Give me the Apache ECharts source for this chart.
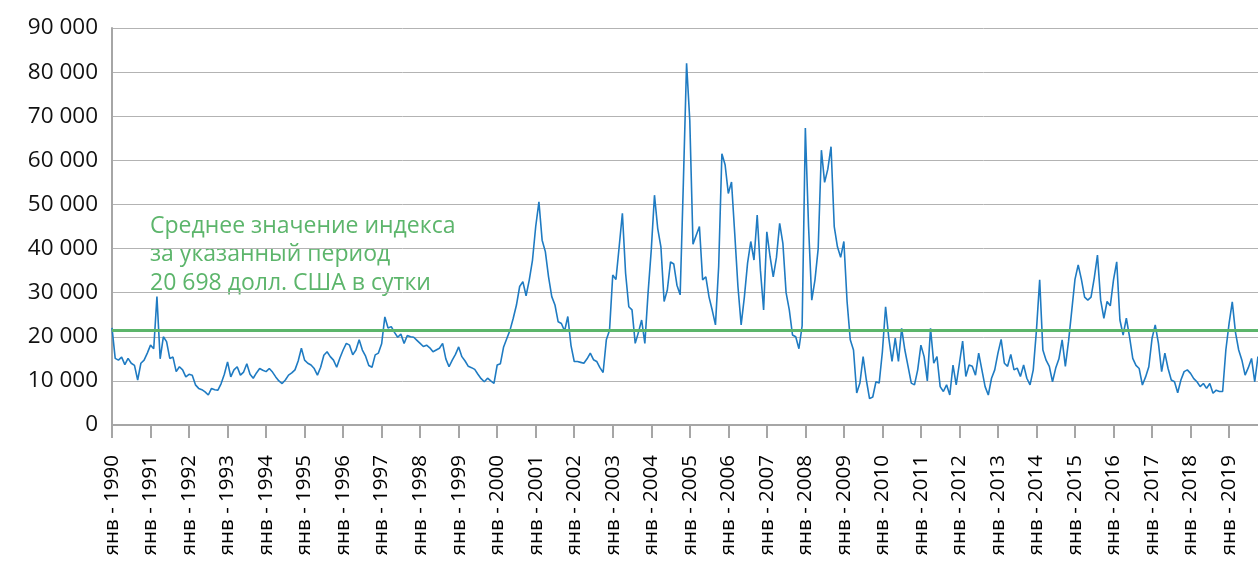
<!DOCTYPE html>
<html>
<head>
<meta charset="utf-8">
<script src="https://cdn.jsdelivr.net/npm/echarts@6/dist/echarts.min.js"></script>
<style>
  html, body { margin: 0; padding: 0; background: #fff; overflow: hidden; }
  #chart { width: 1300px; height: 564px; }
</style>
</head>
<body>
<div id="chart"></div>
<script>
// monthly readings of the index, Jan 1990 .. Mar 2020
const monthNames = ['янв', 'фев', 'мар', 'апр', 'май', 'июн', 'июл', 'авг', 'сен', 'окт', 'ноя', 'дек'];
const firstYear = 1990;

const indexValues = [
  22000, 15100, 14700, 15400, 13700, 15100, 14000, 13500, 10200, 14000, 14700, 16300, // 1990
  18100, 17300, 29100, 15000, 20000, 18900, 15100, 15400, 12100, 13200, 12500, 10900, // 1991
  11500, 11300, 9100, 8300, 8000, 7500, 6800, 8300, 8000, 7900, 9400, 11500,          // 1992
  14300, 10900, 12500, 13200, 11300, 12000, 13900, 11500, 10600, 11800, 12800, 12400, // 1993
  12100, 12800, 12000, 10900, 10000, 9400, 10200, 11300, 11800, 12500, 14500, 17400,  // 1994
  14700, 14000, 13600, 12800, 11300, 13100, 15800, 16600, 15500, 14700, 13100, 15200, // 1995
  17000, 18500, 18100, 15900, 17000, 19300, 17000, 15600, 13500, 13100, 15900, 16300, // 1996
  18400, 24500, 22000, 22300, 21000, 19900, 20600, 18500, 20300, 20000, 19900, 19200, // 1997
  18500, 17800, 18100, 17500, 16600, 17000, 17400, 18500, 15000, 13200, 14700, 16000, // 1998
  17700, 15500, 14500, 13300, 13000, 12600, 11500, 10500, 9800, 10600, 10000, 9450,   // 1999
  13600, 13900, 17700, 19600, 21500, 24200, 27200, 31400, 32500, 29300, 32900, 37400, // 2000
  45000, 50600, 41900, 39300, 33600, 29100, 27200, 23400, 23000, 21300, 24600, 18000, // 2001
  14400, 14400, 14200, 14000, 15000, 16300, 14800, 14400, 13000, 11900, 19300, 21500, // 2002
  34000, 33000, 40400, 48000, 34400, 26800, 26100, 18500, 21000, 23800, 18500, 29900, // 2003
  39700, 52100, 44600, 40400, 28000, 30600, 37000, 36500, 31700, 29500, 55000, 82000, // 2004
  69000, 41000, 43000, 45000, 32900, 33600, 29000, 26000, 22700, 36000, 61500, 59000, // 2005
  52500, 55100, 43400, 31400, 22700, 29000, 36700, 41600, 37400, 47600, 35100, 26100, // 2006
  43800, 38200, 33600, 38000, 45700, 41200, 30000, 26100, 20400, 20000, 17300, 22500, // 2007
  67300, 45000, 28300, 32900, 40000, 62300, 55000, 58000, 63100, 45000, 40400, 38000, // 2008
  41600, 28000, 19300, 17000, 7260, 9500, 15500, 10200, 5970, 6350, 9800, 9500,       // 2009
  16600, 26800, 19700, 14400, 19700, 14400, 21900, 17000, 13300, 9500, 9100, 12500,   // 2010
  18100, 15500, 10000, 21900, 14000, 15500, 8700, 7600, 9100, 6800, 13600, 9100,      // 2011
  14000, 19000, 11000, 13600, 13300, 11300, 16300, 12500, 8700, 6800, 10600, 12500,   // 2012
  16300, 19400, 14000, 13300, 16000, 12500, 12900, 11000, 13600, 10600, 9100, 12500,  // 2013
  21500, 32900, 17000, 14700, 13300, 9800, 12900, 15000, 19300, 13300, 19000, 26000,  // 2014
  33000, 36300, 33000, 29000, 28300, 29000, 33300, 38500, 28300, 24200, 28000, 27000, // 2015
  32900, 37000, 23800, 20400, 24200, 20000, 15100, 13500, 12800, 9070, 10900, 13200,  // 2016
  19600, 22700, 18500, 12100, 16300, 12800, 10200, 9800, 7300, 10200, 12100, 12500,   // 2017
  11700, 10500, 9800, 8700, 9400, 8300, 9400, 7200, 7900, 7600, 7600, 17000,          // 2018
  23000, 27900, 21000, 17000, 14700, 11300, 13000, 15100, 9800, 15500, 12000, 11000,  // 2019
  10000, 9500, 10500                                                                  // 2020
];

const avgLevel = 21500;
const avgNote = ['Среднее значение индекса', 'за указанный период', '20 698 долл. США в сутки'];
const yTickLabels = ['0', '10 000', '20 000', '30 000', '40 000', '50 000', '60 000', '70 000', '80 000', '90 000'];

const categories = indexValues.map((v, i) =>
  monthNames[i % 12] + ' - ' + (firstYear + Math.floor(i / 12)));

const green = '#5cb56b';
const gray = '#a6a6a6';
const font = 'Open Sans';
const yearOnly = (i) => i % 12 === 0;

const chart = echarts.init(document.getElementById('chart'));
chart.setOption({
  animation: false,
  grid: { left: 112, right: 26, top: 28, bottom: 139, containLabel: false, outerBoundsMode: 'none' },
  xAxis: {
    type: 'category',
    data: categories,
    boundaryGap: false,
    axisLine: { lineStyle: { color: gray, width: 2 } },
    axisTick: { interval: yearOnly, length: 13, lineStyle: { color: gray, width: 2 } },
    axisLabel: {
      interval: yearOnly, rotate: 90, margin: 30,
      fontFamily: font, fontSize: 20.5, color: '#000'
    },
    splitLine: { show: false }
  },
  yAxis: {
    type: 'value',
    min: 0, max: 90000, interval: 10000,
    axisLine: { show: true, lineStyle: { color: gray, width: 2 } },
    axisTick: { show: false },
    axisLabel: {
      formatter: (v) => yTickLabels[Math.round(v / 10000)],
      fontFamily: font, fontSize: 22.5, color: '#111', margin: 14
    },
    splitLine: { lineStyle: { color: '#b3b3b3', width: 1 } }
  },
  series: [{
    type: 'line',
    data: indexValues,
    showSymbol: false,
    lineStyle: { color: '#1f7bc2', width: 1.6 },
    markLine: {
      silent: true,
      symbol: 'none',
      label: { show: false },
      lineStyle: { color: green, width: 3, type: 'solid' },
      data: [{ yAxis: avgLevel }]
    }
  }],
  graphic: [{
    type: 'text',
    left: 150,
    top: 212,
    style: {
      text: avgNote.join('\n'),
      fontFamily: font,
      fontSize: 23,
      lineHeight: 28.5,
      fill: green
    }
  }]
});
</script>
</body>
</html>
